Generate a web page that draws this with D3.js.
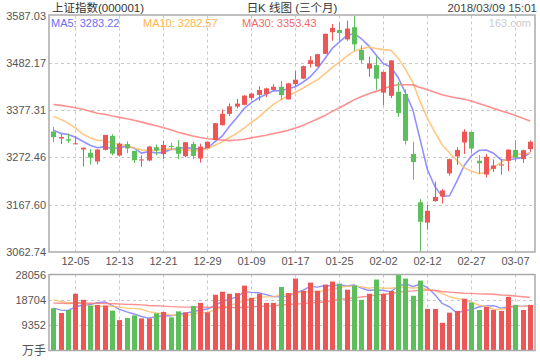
<!DOCTYPE html>
<html><head><meta charset="utf-8">
<script src="https://cdn.jsdelivr.net/npm/d3@7"></script>
<style>
html,body{margin:0;padding:0;background:#fff;}
svg text{font-family:"Liberation Sans","Noto Sans CJK SC",sans-serif;}
</style></head>
<body><svg id="c" width="540" height="360"></svg>
<script>
// ---- data ----
const dates = ["11-30","12-01","12-04","12-05","12-06","12-07","12-08","12-11","12-12","12-13","12-14","12-15","12-18","12-19","12-20","12-21","12-22","12-25","12-26","12-27","12-28","12-29",
"01-02","01-03","01-04","01-05","01-08","01-09","01-10","01-11","01-12","01-15","01-16","01-17","01-18","01-19","01-22","01-23","01-24","01-25","01-26","01-29","01-30","01-31",
"02-01","02-02","02-05","02-06","02-07","02-08","02-09","02-12","02-13","02-14","02-22","02-23","02-26","02-27","02-28",
"03-01","03-02","03-05","03-06","03-07","03-08","03-09"];
const opens  = [3329.7,3314.3,3313.0,3302.0,3290.0,3282.6,3263.3,3289.2,3320.2,3276.6,3302.0,3287.0,3265.6,3265.6,3295.0,3280.0,3298.0,3296.0,3275.0,3302.5,3270.0,3293.0,
3311.0,3344.0,3369.0,3385.0,3389.0,3404.0,3411.0,3413.0,3422.0,3429.0,3401.0,3435.0,3447.0,3479.6,3474.0,3502.0,3550.0,3555.0,3534.0,3561.0,3510.6,3469.0,
3477.0,3416.0,3409.0,3418.0,3413.0,3280.0,3173.0,3128.0,3175.6,3186.0,3237.0,3274.5,3305.4,3329.0,3265.0,
3234.5,3247.0,3254.5,3265.0,3289.0,3268.6,3291.0];
const highs  = [3339.5,3324.0,3325.0,3319.0,3294.3,3290.8,3290.5,3322.5,3324.0,3305.0,3308.0,3287.0,3277.0,3297.5,3301.0,3309.5,3305.0,3311.0,3306.5,3307.5,3303.0,3307.5,
3349.0,3379.0,3392.0,3402.0,3410.0,3416.0,3430.0,3427.0,3435.0,3442.0,3437.5,3464.0,3476.0,3497.0,3502.0,3547.0,3568.0,3572.0,3576.0,3587.03,3521.0,3496.0,
3496.0,3463.0,3488.0,3440.0,3423.0,3307.0,3180.0,3167.0,3219.0,3202.0,3270.0,3295.0,3335.0,3329.5,3278.0,
3280.0,3268.0,3269.0,3290.0,3311.0,3289.5,3310.0];
const lows   = [3306.3,3302.0,3304.0,3302.0,3252.3,3256.7,3257.0,3288.0,3277.0,3274.5,3282.0,3260.0,3252.0,3264.0,3277.0,3269.0,3290.0,3268.6,3273.0,3268.6,3261.0,3293.0,
3311.0,3343.0,3364.0,3381.0,3388.0,3400.0,3398.0,3406.0,3419.0,3400.0,3401.0,3430.0,3446.0,3472.0,3474.0,3502.0,3531.0,3531.0,3531.0,3509.0,3480.0,3451.0,
3422.0,3388.0,3404.0,3362.0,3301.0,3223.0,3062.74,3112.0,3174.0,3170.0,3232.0,3256.0,3280.0,3282.0,3236.0,
3228.0,3240.0,3234.0,3242.0,3264.0,3260.0,3284.0];
const closes = [3317.19,3317.62,3309.62,3303.68,3293.96,3272.05,3289.99,3322.20,3280.81,3303.04,3292.44,3266.14,3267.92,3296.54,3287.61,3300.06,3297.06,3280.46,3306.12,3275.78,3296.38,3307.17,
3348.33,3369.11,3385.71,3391.75,3409.48,3413.90,3421.83,3425.34,3428.94,3410.49,3436.59,3444.67,3474.75,3487.86,3501.36,3546.50,3559.47,3548.31,3558.13,3523.00,3488.01,3480.83,
3446.98,3462.08,3487.50,3370.65,3309.26,3262.05,3129.85,3154.13,3184.96,3199.16,3268.56,3289.02,3329.57,3292.07,3259.41,
3273.75,3254.53,3256.93,3289.64,3271.67,3288.41,3307.17];
const volumes = [15590,13840,14960,20950,18700,16580,16830,16580,14720,11220,11970,12970,11850,11850,13720,14220,12220,14460,14090,16460,17580,14090,
20580,21700,20950,21200,23940,19450,20950,17580,17580,23440,21200,26560,22070,25060,22070,24320,25440,24690,22450,23940,18700,20950,
26190,20950,21950,28056,26560,20200,25810,15340,15340,10220,13970,14590,19080,17710,14960,
16090,14960,14590,19830,16830,14960,16830];
// estimated earlier sessions, only used to warm up the moving averages
const priorCloses = [3378.65,3380.70,3388.25,3396.90,3407.57,3416.81,3390.34,3393.34,3395.91,3383.31,3371.74,3388.17,3413.57,3415.46,3427.79,3432.67,3447.84,3429.55,3402.52,3399.25,3382.91,3392.40,3410.50,3430.46,3351.92,3353.82,3322.23,3333.66,3337.86];
const priorVolumes = [15800,16500,17200,18100,18600,18500,17900,16200,15900,15300,14800,16100,17800,17400,17700,17600,17900,17200,16000,15500,19000,19500,20500,21500,28000,17500,15500,14500,15000];
const priceTicks = [3062.74,3167.60,3272.46,3377.31,3482.17,3587.03];
const volumeTicks = [9352,18704,28056];
const xTickDates = ["12-05","12-13","12-21","12-29","01-09","01-17","01-25","02-02","02-12","02-27","03-07"];
const maPeriods = [5,10,30];
const maLabels = ["MA5: 3283.22","MA10: 3282.57","MA30: 3353.43"];
const titleLeft = "上证指数(000001)", titleMid = "日K 线图 (三个月)", titleRight = "2018/03/09 15:01";

// ---- layout ----
const svg = d3.select("#c");
const L = 49, R = 535, pT = 15.5, pB = 252, vT = 274.5, vB = 350.5;
const maColors = ["#7c7cff","#ffbe6e","#ff7c7c"];
const maText = ["#6e6ef5","#ffb44c","#f06a6a"];
const UP = "#ee5656", DN = "#5cbf5c";

const x = d3.scaleBand().domain(dates).range([49.8, 533.8]).padding(0);
const cx = d => x(d) + x.bandwidth()/2;
const yP = d3.scaleLinear().domain([3062.74, 3587.03]).range([pB, pT]);
const yV = d3.scaleLinear().domain([0, 28056]).range([vB, vT]);

function ma(prior, vals, n){
  const all = prior.concat(vals), off = prior.length;
  return vals.map((v,i)=>{ const e=off+i; return d3.mean(all.slice(e-n+1,e+1)); });
}

// grid
const grid = svg.append("g").attr("stroke","#c8c8c8").attr("stroke-dasharray","3,3").attr("stroke-width",1);
priceTicks.slice(1,-1).forEach(t=>{
  const yy = Math.round(yP(t))+0.5;
  grid.append("line").attr("x1",L).attr("x2",R).attr("y1",yy).attr("y2",yy);
});
volumeTicks.slice(0,-1).forEach(t=>{
  const yy = Math.round(yV(t))+0.5;
  grid.append("line").attr("x1",L).attr("x2",R).attr("y1",yy).attr("y2",yy);
});
xTickDates.forEach(d=>{
  const xx = Math.round(cx(d))+0.5;
  grid.append("line").attr("x1",xx).attr("x2",xx).attr("y1",pT).attr("y2",pB);
  grid.append("line").attr("x1",xx).attr("x2",xx).attr("y1",vT).attr("y2",vB);
});

// MA lines price
maPeriods.forEach((n,k)=>{
  const m = ma(priorCloses, closes, n);
  svg.append("path").datum(m).attr("fill","none").attr("stroke",maColors[k]).attr("stroke-width",1.6).attr("stroke-opacity",0.85)
    .attr("d", d3.line().x((v,i)=>cx(dates[i])).y(v=>yP(v)));
});

// candles
const bw = 5;
const cg = svg.append("g");
dates.forEach((d,i)=>{
  const up = closes[i] >= opens[i];
  const col = up ? UP : DN;
  const xc = Math.round(cx(d));
  cg.append("line").attr("x1",xc+0.5).attr("x2",xc+0.5).attr("y1",yP(highs[i])).attr("y2",yP(lows[i])).attr("stroke",col).attr("stroke-width",1);
  const y1 = yP(Math.max(opens[i],closes[i])), y2 = yP(Math.min(opens[i],closes[i]));
  cg.append("rect").attr("x",xc+0.5-bw/2).attr("width",bw).attr("y",y1).attr("height",Math.max(1,y2-y1)).attr("fill",col);
});

// volume MA lines
maPeriods.forEach((n,k)=>{
  const m = ma(priorVolumes, volumes, n);
  svg.append("path").datum(m).attr("fill","none").attr("stroke",maColors[k]).attr("stroke-width",1.4).attr("stroke-opacity",0.85)
    .attr("d", d3.line().x((v,i)=>cx(dates[i])).y(v=>yV(v)));
});
// volume bars (drawn over lines)
dates.forEach((d,i)=>{
  const up = closes[i] >= opens[i];
  const xc = Math.round(cx(d));
  svg.append("rect").attr("x",xc+0.5-bw/2).attr("width",bw).attr("y",yV(volumes[i])).attr("height",vB-yV(volumes[i])).attr("fill",up?UP:DN);
});

// frames
svg.append("rect").attr("x",L).attr("y",pT-0.5).attr("width",R-L).attr("height",pB-pT+0.5).attr("fill","none").attr("stroke","#aaa").attr("stroke-width",1.5);
svg.append("rect").attr("x",L).attr("y",vT).attr("width",R-L).attr("height",vB-vT).attr("fill","none").attr("stroke","#aaa").attr("stroke-width",1.5);

// axes
const axP = svg.append("g").attr("transform",`translate(${L},0)`)
  .call(d3.axisLeft(yP).tickValues(priceTicks).tickFormat(d=>d.toFixed(2)).tickSize(0).tickPadding(3));
const axV = svg.append("g").attr("transform",`translate(${L},0)`)
  .call(d3.axisLeft(yV).tickValues(volumeTicks).tickFormat(d=>String(d)).tickSize(0).tickPadding(3));
const axX = svg.append("g").attr("transform",`translate(0,${pB})`)
  .call(d3.axisBottom(x).tickValues(xTickDates).tickSize(0).tickPadding(5));
[axP,axV,axX].forEach(a=>{
  a.select(".domain").remove();
  a.selectAll("text").attr("fill","#555").style("font-size","11px").style("font-family","Liberation Sans, sans-serif");
});
svg.append("text").attr("x",46).attr("y",vB+4).attr("text-anchor","end").attr("fill","#555").style("font-size","12px").text("万手");

// header
svg.append("text").attr("x",52).attr("y",12).attr("fill","#333").style("font-size","11.5px").text(titleLeft);
svg.append("text").attr("x",292).attr("y",12).attr("text-anchor","middle").attr("fill","#333").style("font-size","11.5px").text(titleMid);
svg.append("text").attr("x",537).attr("y",12).attr("text-anchor","end").attr("fill","#444").style("font-size","11.5px").text(titleRight);

// legend
const legX = [51,143,242];
maLabels.forEach((t,k)=>{
  svg.append("text").attr("x",legX[k]).attr("y",27).attr("fill",maText[k]).style("font-size","11px").text(t);
});
svg.append("text").attr("x",531).attr("y",27).attr("text-anchor","end").attr("fill","#ccc").style("font-size","11px").text("163.com");
</script></body></html>
